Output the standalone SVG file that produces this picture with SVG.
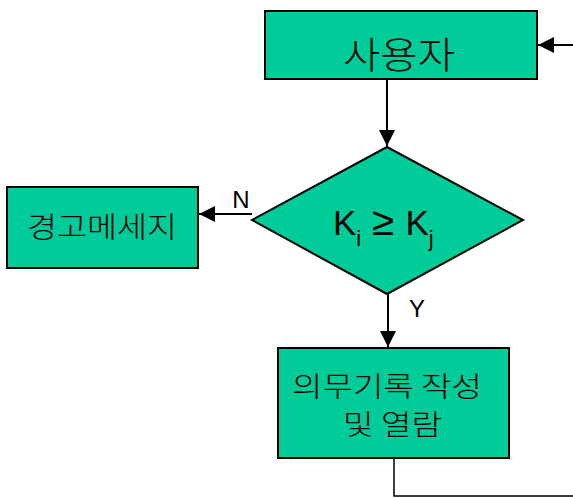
<svg xmlns="http://www.w3.org/2000/svg" width="573" height="498" viewBox="0 0 573 498">
<style>
.box{fill:#00CC99;stroke:#000;stroke-width:2}
.ko{font-family:"Noto Sans CJK KR","Liberation Sans",sans-serif;fill:#000;font-weight:300}
.ln{stroke:#000;stroke-width:2;fill:none}
.lat{font-family:"Liberation Sans",Arial,sans-serif;fill:#000}
</style>
<defs>
<marker id="ah" markerWidth="17" markerHeight="16" refX="16" refY="8" orient="auto" markerUnits="userSpaceOnUse">
<path d="M0,0 L16,8 L0,16 Z" fill="#000"/>
</marker>
</defs>
<rect width="573" height="498" fill="#fff"/>
<g id="connectors">
<line class="ln" x1="573" y1="45" x2="538" y2="45" marker-end="url(#ah)"/>
<line class="ln" x1="387" y1="79" x2="387" y2="146" marker-end="url(#ah)"/>
<line class="ln" x1="252" y1="214" x2="199" y2="214" marker-end="url(#ah)"/>
<text class="lat" x="241" y="208" font-size="24" text-anchor="middle">N</text>
<line class="ln" x1="388" y1="294" x2="388" y2="347" marker-end="url(#ah)"/>
<text class="lat" x="417" y="317" font-size="24" text-anchor="middle">Y</text>
<polyline points="394,458 394,496 573,496" fill="none" stroke="#000" stroke-width="1.5"/>
</g>
<g id="user">
<rect class="box" x="265" y="11" width="272" height="68"/>
<text class="ko" x="343" y="69" font-size="37" textLength="112" lengthAdjust="spacingAndGlyphs">사용자</text>
</g>
<g id="decision">
<polygon class="box" points="387,147 523,220 387,294 252,220"/>
<text class="lat" x="333" y="235" font-size="35">K<tspan font-size="22" dy="11">i</tspan><tspan dy="-11" font-size="40"> ≥ </tspan>K<tspan font-size="22" dy="11">j</tspan></text>
</g>
<g id="warning">
<rect class="box" x="7" y="187" width="191" height="81"/>
<text class="ko" x="27" y="238" font-size="29" textLength="150" lengthAdjust="spacingAndGlyphs">경고메세지</text>
</g>
<g id="record">
<rect class="box" x="278" y="348" width="231" height="110"/>
<text class="ko" x="292" y="397" font-size="28" textLength="190" lengthAdjust="spacingAndGlyphs">의무기록 작성</text>
<text class="ko" x="343" y="435" font-size="28" textLength="99" lengthAdjust="spacingAndGlyphs">및 열람</text>
</g>
</svg>
